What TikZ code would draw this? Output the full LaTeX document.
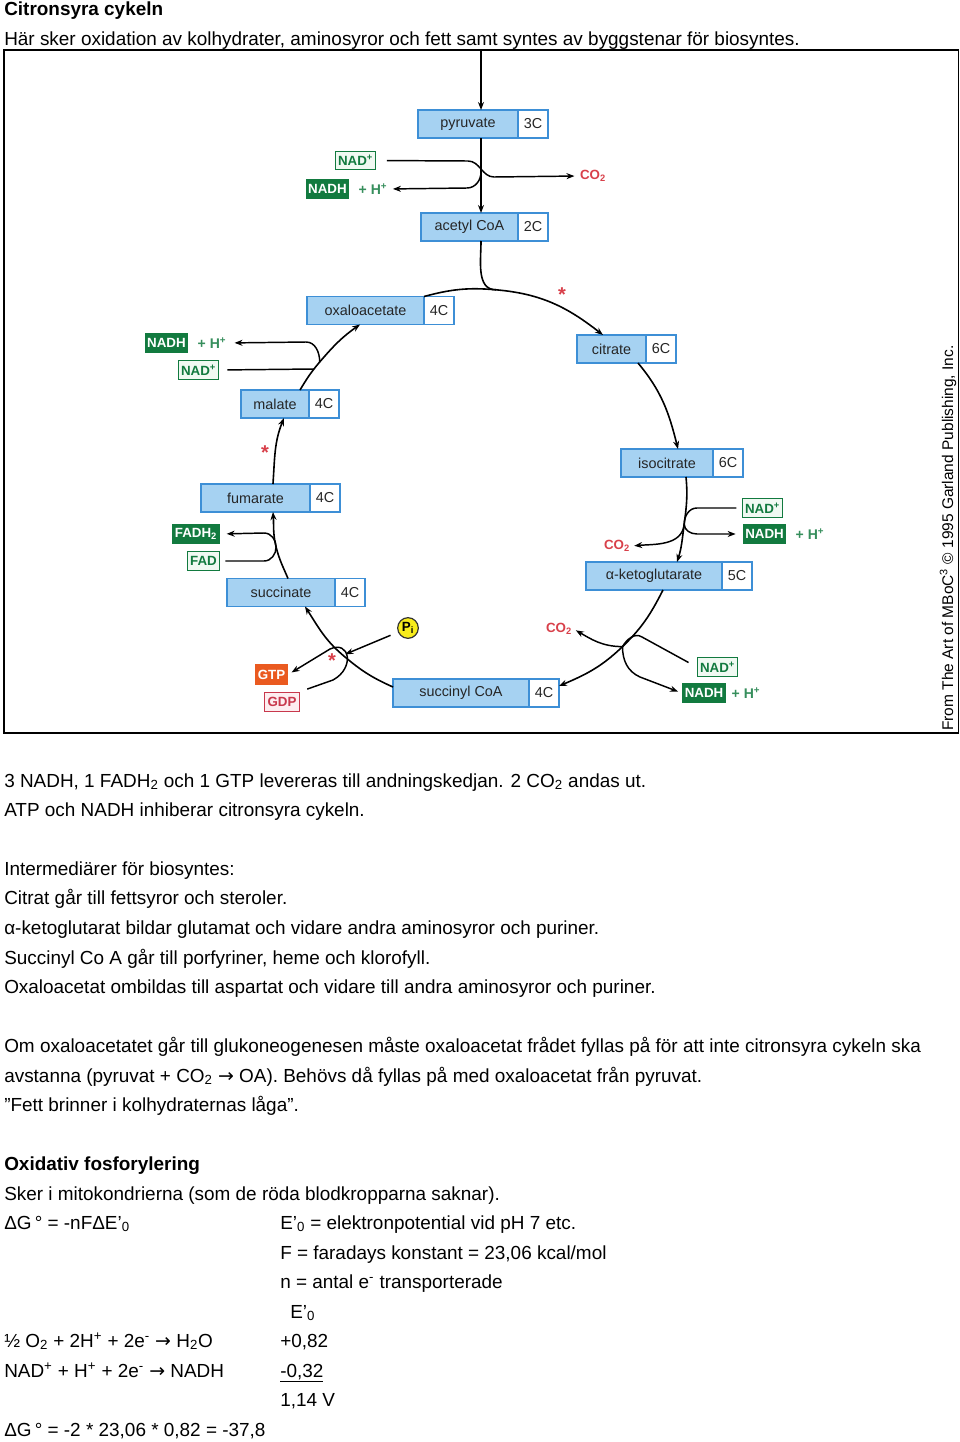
\documentclass[tikz,border=0pt]{standalone}
\usepackage{fontspec}
\setmainfont{Liberation Sans}
\newfontfamily\arrowfont{DejaVu Sans}
\usetikzlibrary{positioning,arrows.meta}

\definecolor{boxblue}{RGB}{166,210,242}
\definecolor{boxline}{RGB}{61,143,214}
\definecolor{dkgreen}{RGB}{18,122,63}
\definecolor{ltgreen}{RGB}{240,249,242}
\definecolor{cored}{RGB}{216,64,74}
\definecolor{gtpred}{RGB}{234,90,32}
\definecolor{gdpred}{RGB}{200,56,76}
\definecolor{gdpfill}{RGB}{253,238,240}
\definecolor{piyel}{RGB}{247,236,28}

\newcommand{\bodyfont}{\fontsize{14.2}{17}\selectfont}
\newcommand{\labfont}{\fontsize{10.8}{12}\selectfont}
\newcommand{\tagfont}{\fontsize{10}{12}\selectfont\bfseries}
\newcommand{\rarrow}{{\arrowfont →}}

\begin{document}
\begin{tikzpicture}[x=0.75pt,y=0.75pt,>={Stealth[length=6pt,width=4.5pt]},
    txt/.style={anchor=base west, inner sep=0pt, font=\bodyfont},
    met/.style={draw=boxline, fill=boxblue, line width=1pt, minimum height=21pt,
        inner sep=0pt, outer sep=0pt, text=black!85, font=\labfont},
    cnt/.style={met, fill=white, minimum width=22.5pt},
    nadbox/.style={draw=dkgreen, fill=ltgreen, text=dkgreen, line width=0.9pt,
        font=\tagfont, inner xsep=2pt, inner ysep=0pt, minimum height=14pt},
    nadhbox/.style={fill=dkgreen, text=white, font=\tagfont, inner xsep=2pt,
        inner ysep=0pt, minimum height=15pt},
    gtpbox/.style={fill=gtpred, text=white, font=\tagfont, inner xsep=2pt,
        inner ysep=0pt, minimum height=15.5pt},
    gdpbox/.style={draw=gdpred, fill=gdpfill, text=gdpred, line width=0.9pt,
        font=\tagfont, inner xsep=2pt, inner ysep=0pt, minimum height=14.5pt},
    pibox/.style={circle, draw=black!80, fill=piyel, line width=0.9pt,
        minimum size=15.5pt, inner sep=0pt, font=\tagfont},
    hion/.style={text=dkgreen!85, font=\fontsize{10.5}{12}\selectfont\bfseries, inner sep=0pt},
    co/.style={text=cored, font=\tagfont, inner sep=1pt},
    star/.style={text=cored, font=\fontsize{15}{15}\selectfont\bfseries, inner sep=0pt},
    cyc/.style={line width=1.2pt},
    side/.style={line width=1.1pt}]
\useasboundingbox (0,0) rectangle (960,-1442);

% heading
\node[txt, font=\bodyfont\bfseries] (head) at (4,-15) {Citronsyra cykeln};
\node[txt] (intro) at (4,-45) {Här sker oxidation av kolhydrater, aminosyror och fett samt syntes av byggstenar för biosyntes.};

% figure frame
\draw[line width=1.2pt] (4,-50) rectangle (958.5,-733);
\node[rotate=90, anchor=west, inner sep=0pt, font=\fontsize{11.6}{12}\selectfont] (credit) at (948,-731)
    {From The Art of MBoC\textsuperscript{3} \textcopyright\ 1995 Garland Publishing, Inc.};

% metabolites
\node[met, minimum width=75pt] (pyr) at (468,-124) {pyruvate};
\node[cnt, right=0pt of pyr] (pyr-c) {3C};
\node[met, minimum width=72.75pt] (acoa) at (469.5,-227) {acetyl CoA};
\node[cnt, right=0pt of acoa] (acoa-c) {2C};
\node[met, minimum width=87.75pt] (oaa) at (365.5,-310.5) {oxaloacetate};
\node[cnt, right=0pt of oaa] (oaa-c) {4C};
\node[met, minimum width=51.75pt] (cit) at (611.5,-349) {citrate};
\node[cnt, right=0pt of cit] (cit-c) {6C};
\node[met, minimum width=69pt] (iso) at (667,-463) {isocitrate};
\node[cnt, right=0pt of iso] (iso-c) {6C};
\node[met, minimum width=102pt] (akg) at (654,-576) {α-ketoglutarate};
\node[cnt, right=0pt of akg] (akg-c) {5C};
\node[met, minimum width=102pt] (sca) at (461,-693) {succinyl CoA};
\node[cnt, right=0pt of sca] (sca-c) {4C};
\node[met, minimum width=81pt] (succ) at (281,-592.5) {succinate};
\node[cnt, right=0pt of succ] (succ-c) {4C};
\node[met, minimum width=81.75pt] (fum) at (255.5,-498) {fumarate};
\node[cnt, right=0pt of fum] (fum-c) {4C};
\node[met, minimum width=51pt] (mal) at (275,-404) {malate};
\node[cnt, right=0pt of mal] (mal-c) {4C};

% cofactors
\node[nadbox] (nad1) at (355.5,-160.5) {NAD\textsuperscript{+}};
\node[nadhbox] (nadh1) at (327.5,-189) {NADH};
\node[hion] (h1) at (373,-189) {+ H\textsuperscript{+}};
\node[co] (co2a) at (593,-176) {CO\textsubscript{2}};
\node[nadhbox] (nadh4) at (166.5,-343) {NADH};
\node[hion] (h4) at (212,-343) {+ H\textsuperscript{+}};
\node[nadbox] (nad4) at (198.5,-370) {NAD\textsuperscript{+}};
\node[nadhbox] (fadh) at (196,-534) {FADH\textsubscript{2}};
\node[nadbox] (fad) at (203.5,-561) {FAD};
\node[gtpbox] (gtp) at (271.5,-674.5) {GTP};
\node[gdpbox] (gdp) at (282,-702) {GDP};
\node[pibox] (pi) at (408,-628) {P\textsubscript{i}};
\node[co] (co2b) at (559,-629) {CO\textsubscript{2}};
\node[nadbox] (nad5) at (717.5,-667) {NAD\textsuperscript{+}};
\node[nadhbox] (nadh5) at (704,-693) {NADH};
\node[hion] (h5) at (746,-693) {+ H\textsuperscript{+}};
\node[co] (co2c) at (617,-546) {CO\textsubscript{2}};
\node[nadbox] (nad3) at (762.5,-508) {NAD\textsuperscript{+}};
\node[nadhbox] (nadh3) at (764.5,-534) {NADH};
\node[hion] (h3) at (810,-534) {+ H\textsuperscript{+}};
\node[star] (st1) at (562,-295) {*};
\node[star] (st2) at (265,-453) {*};
\node[star] (st3) at (332,-661) {*};

% junctions on the cycle
\coordinate (in) at (481,-51);
\coordinate (jpyr) at (481,-172);
\coordinate (join) at (496.1,-289.8);
\coordinate (jiso) at (684.2,-524);
\coordinate (jakg) at (622.5,-646.6);
\coordinate (jsca) at (342.9,-655.2);
\coordinate (jfad) at (276.1,-547);
\coordinate (jmal) at (319.7,-362);
\coordinate (jnad) at (314.1,-369);

% main path
\draw[cyc,->] (in) -- (in |- pyr.north);
\draw[cyc,->] (in |- pyr.south) -- (in |- acoa.north);
\draw[cyc] (in |- acoa.south) to[out=-90,in=180] (join);
\draw[cyc,->] (oaa.north east) to[out=15,in=175] (join) to[out=-5,in=142] ([xshift=-6.4pt]cit.north);
\draw[cyc,->] ([xshift=-6pt]cit.south east) to[out=-50,in=104] ([xshift=8.25pt]iso.north);
\draw[cyc,->] ([xshift=14.25pt]iso.south) to[out=-84.5,in=82.5] (jiso) to[out=-97.5,in=72] ([xshift=17.25pt]akg.north);
\draw[cyc,->] ([xshift=6.75pt]akg.south) to[out=-117,in=44] (jakg) to[out=-136,in=23] ([yshift=-5.25pt]sca-c.north east);
\draw[cyc,->] ([yshift=4.5pt]sca.west) to[out=156,in=-40.5] (jsca) to[out=139.5,in=-57] ([xshift=18pt]succ.south);
\draw[cyc,->] ([xshift=5.25pt]succ.north) to[out=113,in=-76] (jfad) to[out=104,in=-86] ([xshift=13.1pt]fum.south);
\draw[cyc,->] ([xshift=13.1pt]fum.north) to[out=86,in=-112] ([xshift=6.75pt]mal.south);
\draw[cyc,->] ([xshift=18.75pt]mal.north) to[out=59,in=-130.5] (jmal) to[out=49.5,in=-145] ([xshift=-4.1pt]oaa.south);

% side reactions
\draw[side,->,shorten <=8pt,shorten >=3pt] (nad1.east) -- (468,-161) to[out=0,in=180] (494,-177) -- (co2a.west);
\draw[side,->,shorten >=4pt] (jpyr) to[out=-90,in=0] (467,-188) -- (h1.east);
\draw[side,shorten <=6pt] (nad4.east) -- (jnad);
\draw[side,->,shorten >=6pt] (jmal) to[out=90,in=0] (306,-342) -- (h4.east);
\draw[side,shorten <=4pt] (fad.east) -- (264,-561) to[out=0,in=-90] (jfad);
\draw[side,->,shorten >=5pt] (jfad) to[out=90,in=0] (264,-533) -- (fadh.east);
\draw[side,->,shorten <=6pt,shorten >=2pt] (pi) -- (jsca);
\draw[side,->,shorten <=6pt,shorten >=3pt] (gdp.north east) -- (333,-680) .. controls (355,-668) and (350,-640) .. (330,-649) -- (gtp.east);
\draw[side,->,shorten >=2pt] (jakg) to[out=180,in=-30] (co2b.east);
\draw[side,shorten <=7pt] (nad5.west) -- (642,-637) to[out=147,in=60] (jakg);
\draw[side,->,shorten >=3pt] (jakg) to[out=-90,in=156] (640,-677) -- (nadh5.west);
\draw[side,shorten <=4pt] (nad3.west) -- (697,-508) to[out=180,in=90] (jiso);
\draw[side,->,shorten >=5pt] (jiso) to[out=-90,in=180] (697,-534) -- (nadh3.west);
\draw[side,->,shorten >=2pt] (jiso) to[out=-95,in=5] (co2c.east);

% text below the figure
\node[txt] (sum1) at (4,-787) {3 NADH, 1 FADH\textsubscript{2} och 1 GTP levereras till andningskedjan. 2 CO\textsubscript{2} andas ut.};
\node[txt] (sum2) at (4,-816) {ATP och NADH inhiberar citronsyra cykeln.};
\node[txt] (bio0) at (4,-875) {Intermediärer för biosyntes:};
\node[txt] (bio1) at (4,-904) {Citrat går till fettsyror och steroler.};
\node[txt] (bio2) at (4,-934) {α-ketoglutarat bildar glutamat och vidare andra aminosyror och puriner.};
\node[txt] (bio3) at (4,-964) {Succinyl Co A går till porfyriner, heme och klorofyll.};
\node[txt] (bio4) at (4,-993) {Oxaloacetat ombildas till aspartat och vidare till andra aminosyror och puriner.};
\node[txt] (glu1) at (4,-1052) {Om oxaloacetatet går till glukoneogenesen måste oxaloacetat frådet fyllas på för att inte citronsyra cykeln ska};
\node[txt] (glu2) at (4,-1082) {avstanna (pyruvat + CO\textsubscript{2} \rarrow\ OA). Behövs då fyllas på med oxaloacetat från pyruvat.};
\node[txt] (glu3) at (4,-1111) {”Fett brinner i kolhydraternas låga”.};
\node[txt, font=\bodyfont\bfseries] (ox0) at (4,-1170) {Oxidativ fosforylering};
\node[txt] (ox1) at (4,-1200) {Sker i mitokondrierna (som de röda blodkropparna saknar).};
\node[txt] (dg) at (4,-1229) {ΔG\,° = -nFΔE’\textsubscript{0}};
\node[txt] (def1) at (280,-1229) {E’\textsubscript{0} = elektronpotential vid pH 7 etc.};
\node[txt] (def2) at (280,-1259) {F = faradays konstant = 23,06 kcal/mol};
\node[txt] (def3) at (280,-1288) {n = antal e\textsuperscript{-} transporterade};
\node[txt] (ecol) at (290,-1318) {E’\textsubscript{0}};
\node[txt] (r1) at (4,-1347) {½ O\textsubscript{2} + 2H\textsuperscript{+} + 2e\textsuperscript{-} \rarrow\ H\textsubscript{2}O};
\node[txt] (e1) at (280,-1347) {+0,82};
\node[txt] (r2) at (4,-1377) {NAD\textsuperscript{+} + H\textsuperscript{+} + 2e\textsuperscript{-} \rarrow\ NADH};
\node[txt] (e2) at (280,-1377) {\underline{-0,32}};
\node[txt] (e3) at (280,-1406) {1,14 V};
\node[txt] (dg2) at (4,-1436) {ΔG\,° = -2 * 23,06 * 0,82 = -37,8};
\end{tikzpicture}
\end{document}
